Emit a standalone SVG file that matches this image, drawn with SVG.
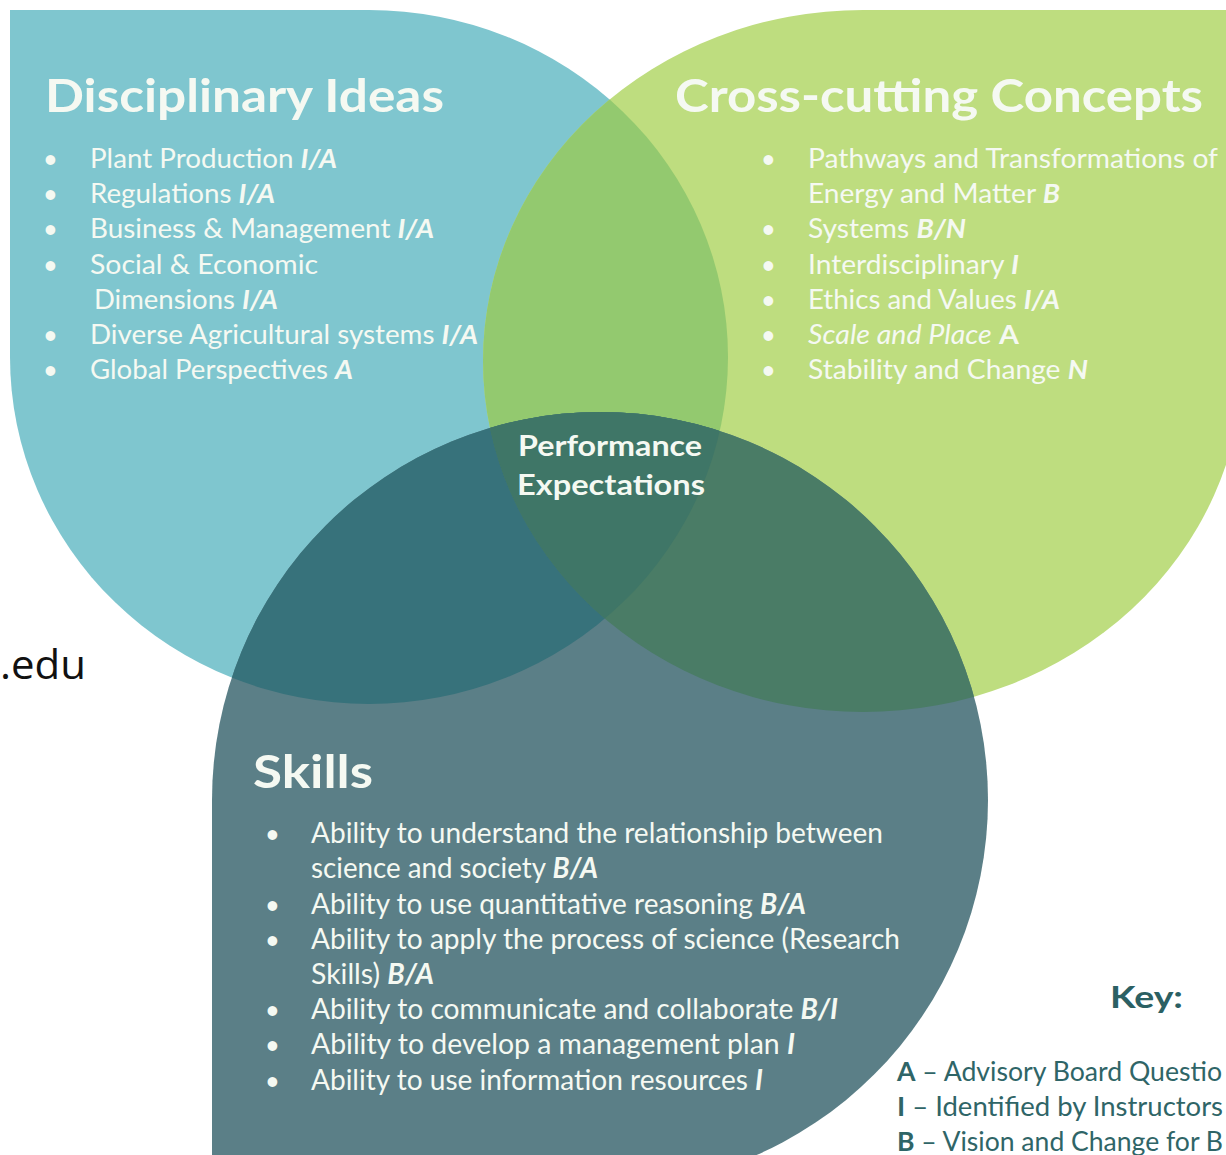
<svg xmlns="http://www.w3.org/2000/svg" xmlns:xlink="http://www.w3.org/1999/xlink" width="1226" height="1155" viewBox="0 0 1226 1155">
<style>
text{font-family:Lato,"Open Sans","Liberation Sans",sans-serif;fill:#f5f9f2}
.title{font-size:46px;font-weight:bold}
.item{font-size:27px;font-weight:normal}
.sk{font-size:28px;font-weight:normal}
.bul{font-size:22px;font-weight:bold;fill:#eef5ee}
.tag{font-weight:bold;font-style:italic}
.pe{font-size:29px;font-weight:bold;text-anchor:middle}
.key{fill:#2f6567;font-size:27px;font-weight:normal}
.kb{font-weight:bold}
</style>
<defs>
<path id="pB" d="M10,10 L369,10 A359,347 0 0 1 728,357 A359,347 0 0 1 369,704 A359,347 0 0 1 10,357 Z"/>
<path id="pG" d="M1243,10 L1243,361 A380,351 0 0 1 863,712 A380,351 0 0 1 483,361 A380,351 0 0 1 863,10 Z"/>
<path id="pS" d="M212,1188 L212,800 A388,388 0 0 1 600,412 A388,388 0 0 1 988,800 A388,388 0 0 1 600,1188 Z"/>
<clipPath id="cB"><use xlink:href="#pB"/></clipPath>
<clipPath id="cG"><use xlink:href="#pG"/></clipPath>
<clipPath id="cS"><use xlink:href="#pS"/></clipPath>
</defs>
<rect width="1226" height="1155" fill="#ffffff"/>
<g id="disciplinary-ideas">
<use xlink:href="#pB" fill="#7fc6cf"/>
<text class="title" x="45" y="112" textLength="399" lengthAdjust="spacingAndGlyphs">Disciplinary Ideas</text>
<g class="bul"><text x="44" y="167">•</text><text x="44" y="202">•</text><text x="44" y="237">•</text><text x="44" y="273">•</text><text x="44" y="343">•</text><text x="44" y="378">•</text></g>
<text class="item" x="90" y="168" textLength="247" lengthAdjust="spacingAndGlyphs">Plant Production <tspan class="tag">I/A</tspan></text>
<text class="item" x="90" y="203" textLength="185" lengthAdjust="spacingAndGlyphs">Regulations <tspan class="tag">I/A</tspan></text>
<text class="item" x="90" y="238" textLength="344" lengthAdjust="spacingAndGlyphs">Business &amp; Management <tspan class="tag">I/A</tspan></text>
<text class="item" x="90" y="274" textLength="228" lengthAdjust="spacingAndGlyphs">Social &amp; Economic</text>
<text class="item" x="94" y="309" textLength="184" lengthAdjust="spacingAndGlyphs">Dimensions <tspan class="tag">I/A</tspan></text>
<text class="item" x="90" y="344" textLength="388" lengthAdjust="spacingAndGlyphs">Diverse Agricultural systems <tspan class="tag">I/A</tspan></text>
<text class="item" x="90" y="379" textLength="263" lengthAdjust="spacingAndGlyphs">Global Perspectives <tspan class="tag">A</tspan></text>
</g>
<g id="cross-cutting-concepts">
<use xlink:href="#pG" fill="#bedd7f"/>
<g clip-path="url(#cB)"><use xlink:href="#pG" fill="#93c96f"/></g>
<text class="title" x="675" y="112" textLength="528" lengthAdjust="spacingAndGlyphs">Cross-cutting Concepts</text>
<g class="bul"><text x="762" y="167">•</text><text x="762" y="237">•</text><text x="762" y="273">•</text><text x="762" y="308">•</text><text x="762" y="343">•</text><text x="762" y="378">•</text></g>
<text class="item" x="808" y="168" textLength="410" lengthAdjust="spacingAndGlyphs">Pathways and Transformations of</text>
<text class="item" x="808" y="203" textLength="252" lengthAdjust="spacingAndGlyphs">Energy and Matter <tspan class="tag">B</tspan></text>
<text class="item" x="808" y="238" textLength="158" lengthAdjust="spacingAndGlyphs">Systems <tspan class="tag">B/N</tspan></text>
<text class="item" x="808" y="274" textLength="211" lengthAdjust="spacingAndGlyphs">Interdisciplinary <tspan class="tag">I</tspan></text>
<text class="item" x="808" y="309" textLength="252" lengthAdjust="spacingAndGlyphs">Ethics and Values <tspan class="tag">I/A</tspan></text>
<text class="item" x="808" y="344" textLength="211" lengthAdjust="spacingAndGlyphs"><tspan font-style="italic">Scale and Place</tspan> <tspan font-weight="bold">A</tspan></text>
<text class="item" x="808" y="379" textLength="280" lengthAdjust="spacingAndGlyphs">Stability and Change <tspan class="tag">N</tspan></text>
</g>
<g id="skills">
<use xlink:href="#pS" fill="#5b7f87"/>
<g clip-path="url(#cS)"><use xlink:href="#pB" fill="#37727b"/><use xlink:href="#pG" fill="#4a7c66"/><g clip-path="url(#cB)"><use xlink:href="#pG" fill="#3f7667"/></g></g>
<text class="title" x="253" y="788" font-size="48" textLength="120" lengthAdjust="spacingAndGlyphs">Skills</text>
<g class="bul"><text x="266" y="842">•</text><text x="266" y="913">•</text><text x="266" y="948">•</text><text x="266" y="1018">•</text><text x="266" y="1053">•</text><text x="266" y="1089">•</text></g>
<text class="sk" x="311" y="843" textLength="572" lengthAdjust="spacingAndGlyphs">Ability to understand the relationship between</text>
<text class="sk" x="311" y="878" textLength="287" lengthAdjust="spacingAndGlyphs">science and society <tspan class="tag">B/A</tspan></text>
<text class="sk" x="311" y="914" textLength="495" lengthAdjust="spacingAndGlyphs">Ability to use quantitative reasoning <tspan class="tag">B/A</tspan></text>
<text class="sk" x="311" y="949" textLength="589" lengthAdjust="spacingAndGlyphs">Ability to apply the process of science (Research</text>
<text class="sk" x="311" y="984" textLength="123" lengthAdjust="spacingAndGlyphs">Skills) <tspan class="tag">B/A</tspan></text>
<text class="sk" x="311" y="1019" textLength="527" lengthAdjust="spacingAndGlyphs">Ability to communicate and collaborate <tspan class="tag">B/I</tspan></text>
<text class="sk" x="311" y="1054" textLength="484" lengthAdjust="spacingAndGlyphs">Ability to develop a management plan <tspan class="tag">I</tspan></text>
<text class="sk" x="311" y="1090" textLength="452" lengthAdjust="spacingAndGlyphs">Ability to use information resources <tspan class="tag">I</tspan></text>
</g>
<g id="performance-expectations">
<text class="pe" x="610" y="456" textLength="184" lengthAdjust="spacingAndGlyphs">Performance</text>
<text class="pe" x="611" y="495" textLength="188" lengthAdjust="spacingAndGlyphs">Expectations</text>
</g>
<g id="key">
<text x="1110" y="1008" font-size="31" font-weight="bold" style="fill:#2b6063" textLength="73" lengthAdjust="spacingAndGlyphs">Key:</text>
<text class="key" x="897" y="1081" textLength="325" lengthAdjust="spacingAndGlyphs"><tspan class="kb">A</tspan> – Advisory Board Questio</text>
<text class="key" x="897" y="1116" textLength="326" lengthAdjust="spacingAndGlyphs"><tspan class="kb">I</tspan> – Identified by Instructors</text>
<text class="key" x="897" y="1151" textLength="326" lengthAdjust="spacingAndGlyphs"><tspan class="kb">B</tspan> – Vision and Change for B</text>
</g>
<g id="edu-fragment">
<text x="0" y="679" font-size="40" style="fill:#111111;font-family:'Open Sans','Liberation Sans',sans-serif" textLength="86" lengthAdjust="spacingAndGlyphs">.edu</text>
</g>
<g id="connectors"/>
</svg>
